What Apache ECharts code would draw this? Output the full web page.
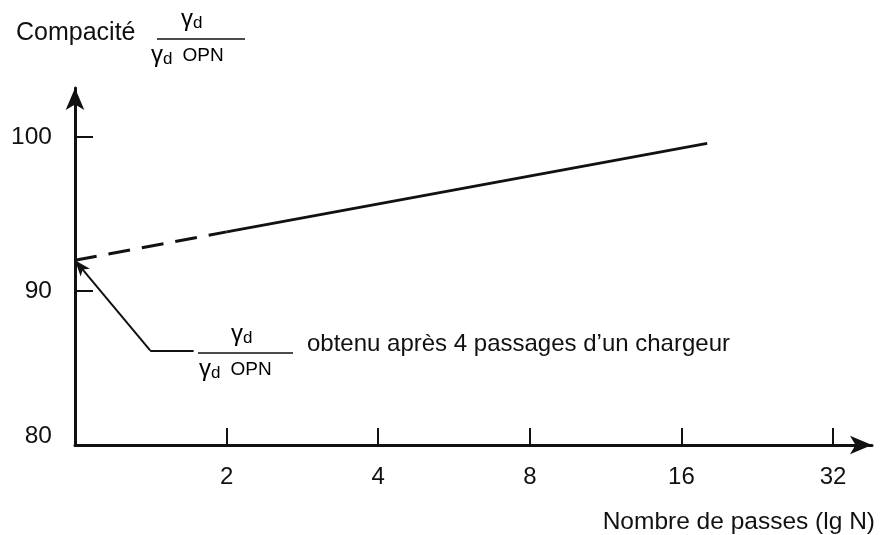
<!DOCTYPE html>
<html>
<head>
<meta charset="utf-8">
<script src="https://cdn.jsdelivr.net/npm/echarts@6/dist/echarts.min.js"></script>
<style>
  html, body { margin: 0; background: #fff; }
  #chart { width: 884px; height: 535px; }
</style>
</head>
<body>
<div id="chart"></div>
<script>
// number of passes N (drawn on a log2 axis) and compaction in %
var dashedN = [1, 2];
var dashedC = [92.0, 93.85];
var solidN = [2, 18];
var solidC = [93.85, 99.6];

var xTickN = [2, 4, 8, 16, 32];
var yTicks = [90, 100];
var yLabels = [80, 90, 100];

// callout: elbow of the leader, end of the leader, pointed value
var calloutN = [1.41, 1.72];
var calloutC = 86.15;
var pointedN = 1;
var pointedC = 92.0;

var ink = '#111';
var font = '"Liberation Sans", Arial, sans-serif';

function toPairs(ns, cs) {
  return ns.map(function (n, i) { return [Math.log2(n), cs[i]]; });
}

var dom = document.getElementById('chart');
var myChart = echarts.init(dom, null, { renderer: 'canvas' });

var gamma = {
  g: { fontSize: 24, fontFamily: font, color: ink },
  d: { fontSize: 17, fontFamily: font, color: ink, padding: [8, 0, 0, 0] },
  o: { fontSize: 19, fontFamily: font, color: ink, padding: [2, 0, 0, 10] }
};

var option = {
  animation: false,
  backgroundColor: '#fff',
  grid: { left: 75, right: 12, top: 88, bottom: 88 },
  xAxis: {
    type: 'value',
    min: 0,
    max: 5.257,
    name: 'Nombre de passes (lg N)',
    nameLocation: 'end',
    nameGap: 3,
    nameTextStyle: {
      align: 'right', verticalAlign: 'top', padding: [65, 0, 0, 0],
      fontSize: 24.5, fontFamily: font, color: ink
    },
    axisLine: {
      show: true, onZero: false,
      symbol: ['none', 'arrow'], symbolSize: [14, 22],
      lineStyle: { color: ink, width: 3 }
    },
    axisTick: {
      show: true, inside: true, length: 17,
      customValues: xTickN.map(Math.log2),
      lineStyle: { color: ink, width: 2 }
    },
    axisLabel: {
      customValues: xTickN.map(Math.log2),
      margin: 20, fontSize: 24, fontFamily: font, color: ink,
      formatter: function (v) { return String(Math.round(Math.pow(2, v))); }
    },
    splitLine: { show: false }
  },
  yAxis: {
    type: 'value',
    min: 80,
    max: 103.2,
    axisLine: {
      show: true, onZero: false,
      symbol: ['none', 'arrow'], symbolSize: [14, 22],
      lineStyle: { color: ink, width: 3 }
    },
    axisTick: {
      show: true, inside: true, length: 18,
      customValues: yTicks,
      lineStyle: { color: ink, width: 2 }
    },
    axisLabel: {
      customValues: yLabels,
      margin: 23, fontSize: 24.5, fontFamily: font, color: ink,
      formatter: function (v) { return v === 80 ? '{lo|80}' : String(v); },
      rich: { lo: { fontSize: 24.5, fontFamily: font, color: ink, padding: [0, 0, 18, 0] } }
    },
    splitLine: { show: false }
  },
  series: [
    {
      name: 'extrapolation',
      type: 'line',
      data: toPairs(dashedN, dashedC),
      symbol: 'none',
      lineStyle: { color: ink, width: 3, type: [22, 12] },
      markLine: {
        silent: true,
        symbol: ['none', 'arrow'],
        symbolSize: [9, 16],
        label: { show: false },
        lineStyle: { color: ink, width: 2, type: 'solid' },
        data: [
          [
            { coord: [Math.log2(calloutN[0]), calloutC] },
            { coord: [Math.log2(pointedN), pointedC] }
          ],
          [
            { coord: [Math.log2(calloutN[0]), calloutC] },
            { coord: [Math.log2(calloutN[1]), calloutC], symbol: 'none' }
          ]
        ]
      }
    },
    {
      name: 'compacité',
      type: 'line',
      data: toPairs(solidN, solidC),
      symbol: 'none',
      lineStyle: { color: ink, width: 3 }
    }
  ],
  graphic: [
    { type: 'text', left: 16, top: 21,
      style: { text: 'Compacité', fontSize: 25, fontFamily: font, fill: ink } },
    { type: 'text', left: 181, top: 7,
      style: { text: '{g|γ}{d|d}', rich: gamma } },
    { type: 'line', shape: { x1: 157, y1: 39, x2: 245, y2: 39 },
      style: { stroke: ink, lineWidth: 1.5 } },
    { type: 'text', left: 151, top: 43,
      style: { text: '{g|γ}{d|d}{o|OPN}', rich: gamma } },

    { type: 'text', left: 231, top: 322,
      style: { text: '{g|γ}{d|d}', rich: gamma } },
    { type: 'line', shape: { x1: 198, y1: 353, x2: 293, y2: 353 },
      style: { stroke: ink, lineWidth: 1.5 } },
    { type: 'text', left: 199, top: 357,
      style: { text: '{g|γ}{d|d}{o|OPN}', rich: gamma } },
    { type: 'text', left: 307, top: 332,
      style: { text: 'obtenu après 4 passages d’un chargeur', fontSize: 24, fontFamily: font, fill: ink } }
  ]
};

if (option && typeof option === 'object') {
  myChart.setOption(option);
}

window.addEventListener('resize', myChart.resize);
</script>
</body>
</html>
